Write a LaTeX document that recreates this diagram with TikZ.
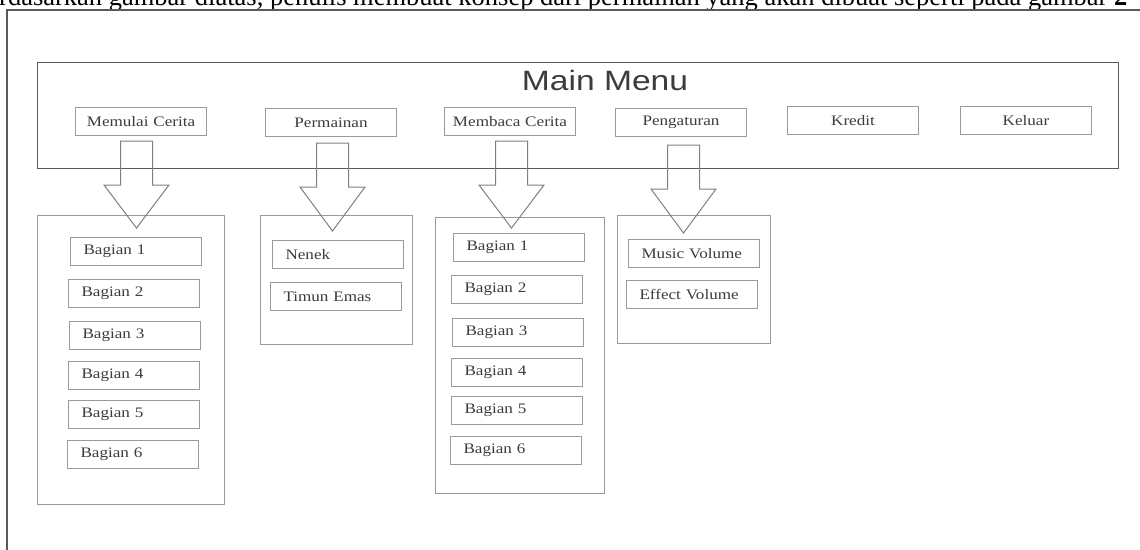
\documentclass[tikz,border=0pt]{standalone}
\usepackage{fontspec}
\setmainfont{Liberation Serif}
\newfontfamily\lblfont{Liberation Serif}[FakeStretch=1.18]
\newfontfamily\mmfont{Liberation Sans}[FakeStretch=1.2]
\usetikzlibrary{calc}
\definecolor{framec}{HTML}{5A5A5A}
\definecolor{boxc}{HTML}{9A9A9A}
\definecolor{txtc}{HTML}{3C3C3C}
\definecolor{arrc}{HTML}{808080}
\tikzset{
  btn/.style={draw=boxc, line width=1pt, anchor=north west, minimum height=28pt,
    text width=125pt, inner xsep=3pt, inner ysep=0pt, align=center,
    font=\lblfont\fontsize{14.5}{16}\selectfont, text=txtc},
  item/.style={btn, text width=105pt, inner xsep=13pt, align=left},
  panel/.style={draw=boxc, line width=1pt, anchor=north west, inner sep=0pt},
  fatarr/.style={draw=arrc, line width=1pt, line join=miter},
}
% #1 source node, #2 target node, #3 x offset, #4 shaft gap, #5 head above target, #6 tip below target top
\newcommand\fatdown[6]{%
  \draw[fatarr] let \p1=(#1.south), \p2=(#2.north west) in
    (\x1+#3-16pt,\y1-#4) -- (\x1+#3+16pt,\y1-#4) -- (\x1+#3+16pt,\y2+#5) --
    (\x1+#3+32.5pt,\y2+#5) -- (\x1+#3,\y2-#6) -- (\x1+#3-32.5pt,\y2+#5) --
    (\x1+#3-16pt,\y2+#5) -- cycle;}
\begin{document}
\begin{tikzpicture}[x=1pt,y=-1pt]
\useasboundingbox (0,0) rectangle (1140,549);
\clip (0,0) rectangle (1140,549);
\fill[white] (0,0) rectangle (1140,549);
% cut-off caption line
\node[anchor=base west, inner sep=0pt, font=\fontsize{26.5}{28}\selectfont] (cap) at (-1,5)
  {rdasarkan gambar diatas, penulis membuat konsep dari permainan yang akan dibuat seperti pada gambar \textbf{2}};
% outer page frame
\draw[framec, line width=1.3pt] (7,570) -- (7,10) -- (1160,10);
% main menu box
\node[draw=framec, line width=1.2pt, anchor=north west, minimum width=1081pt, minimum height=106pt, inner sep=0pt] (main) at (37,62) {};
\node[font=\mmfont\fontsize{28}{30}\selectfont, text=txtc, inner sep=0pt] (title) at (605,80) {Main Menu};
% menu buttons
\node[btn] (b1) at (75,107) {Memulai Cerita};
\node[btn] (b2) at (265,108) {Permainan};
\node[btn] (b3) at (444,107) {Membaca Cerita};
\node[btn] (b4) at (615,108) {Pengaturan};
\node[btn] (b5) at (787,106) {Kredit};
\node[btn] (b6) at (960,106) {Keluar};
% panels
\node[panel, minimum width=187pt, minimum height=289pt] (p1) at (37,215) {};
\node[panel, minimum width=152pt, minimum height=129pt] (p2) at (260,215) {};
\node[panel, minimum width=169pt, minimum height=276pt] (p3) at (435,217) {};
\node[panel, minimum width=153pt, minimum height=128pt] (p4) at (617,215) {};
% arrows
\fatdown{b1}{p1}{-4.5pt}{5pt}{30pt}{13pt}
\fatdown{b2}{p2}{1.5pt}{6pt}{28pt}{16pt}
\fatdown{b3}{p3}{1.5pt}{5pt}{32pt}{11pt}
\fatdown{b4}{p4}{2.5pt}{8pt}{26pt}{18pt}
% panel 1 items
\node[item] (a1) at (70,237) {Bagian 1};
\node[item] (a2) at (68,279) {Bagian 2};
\node[item] (a3) at (69,321) {Bagian 3};
\node[item] (a4) at (68,361) {Bagian 4};
\node[item] (a5) at (68,400) {Bagian 5};
\node[item] (a6) at (67,440) {Bagian 6};
% panel 2 items
\node[item] (g1) at (272,240) {Nenek};
\node[item] (g2) at (270,282) {Timun Emas};
% panel 3 items
\node[item] (c1) at (453,233) {Bagian 1};
\node[item] (c2) at (451,275) {Bagian 2};
\node[item] (c3) at (452,318) {Bagian 3};
\node[item] (c4) at (451,358) {Bagian 4};
\node[item] (c5) at (451,396) {Bagian 5};
\node[item] (c6) at (450,436) {Bagian 6};
% panel 4 items
\node[item] (s1) at (628,239) {Music Volume};
\node[item] (s2) at (626,280) {Effect Volume};
\end{tikzpicture}
\end{document}
